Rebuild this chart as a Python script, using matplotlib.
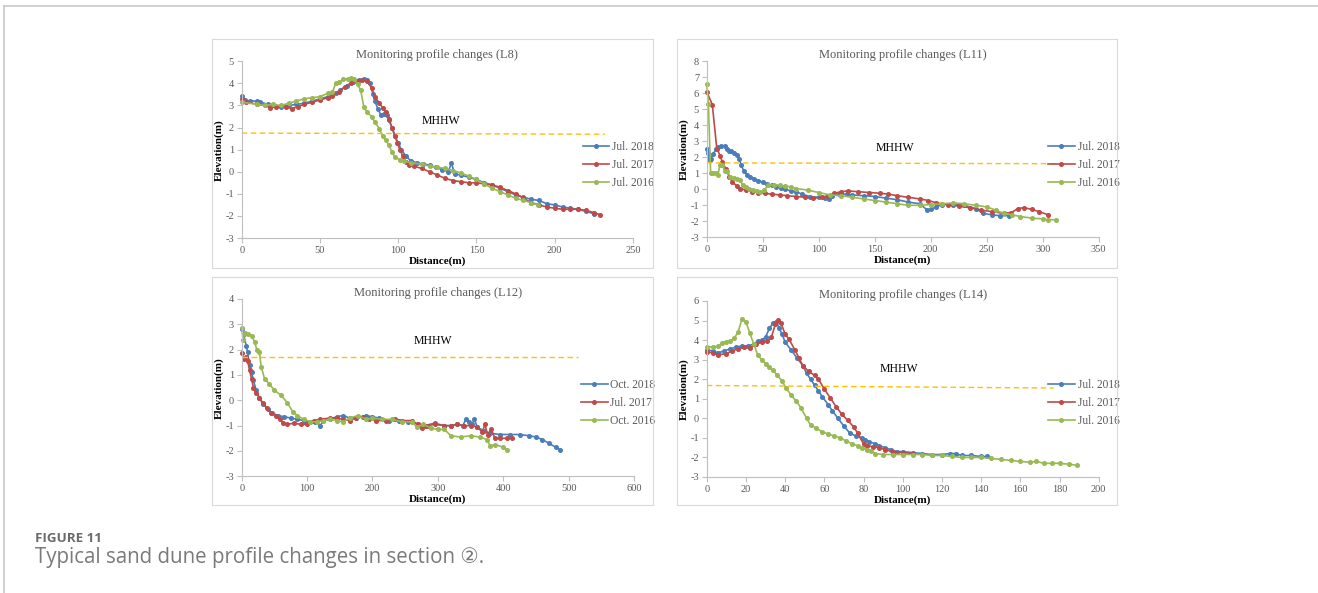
import matplotlib
matplotlib.use("Agg")
import matplotlib.pyplot as plt
from matplotlib.patches import Rectangle
from matplotlib.lines import Line2D

plt.rcParams["axes.unicode_minus"] = False

# ---------------- DATA ----------------
# L8
l8_b_x = [0, 2, 5, 10, 12, 17, 20, 25, 30, 35, 40, 45, 50, 55, 60, 63, 67, 71, 75, 78, 80, 82, 84, 85, 87, 89, 91, 93, 94, 96, 98, 100, 102, 105, 108, 112, 116, 120, 124, 128, 132, 134, 136, 140, 145, 150, 155, 160, 165, 170, 175, 180, 185, 190, 195, 200, 205, 210, 215, 220, 225]
l8_b_y = [3.45, 3.25, 3.2, 3.2, 3.15, 3.05, 3.0, 2.95, 3.0, 3.05, 3.1, 3.2, 3.3, 3.4, 3.55, 3.7, 3.9, 4.05, 4.15, 4.2, 4.15, 4.0, 3.5, 3.2, 2.85, 2.55, 2.6, 2.55, 2.35, 2.0, 1.6, 1.3, 1.0, 0.7, 0.5, 0.4, 0.35, 0.3, 0.2, 0.1, 0.0, 0.4, -0.1, -0.15, -0.25, -0.35, -0.5, -0.6, -0.75, -0.9, -1.05, -1.15, -1.25, -1.3, -1.45, -1.5, -1.6, -1.65, -1.7, -1.8, -1.9]
l8_r_x = [0, 3, 10, 15, 18, 22, 28, 32, 36, 40, 45, 50, 55, 58, 62, 66, 70, 74, 77, 80, 83, 85, 88, 90, 92, 94, 96, 98, 99.5, 101, 103, 105, 107, 110, 115, 120, 125, 130, 135, 140, 145, 150, 155, 160, 165, 170, 175, 180, 185, 190, 195, 200, 205, 210, 215, 220, 225, 229]
l8_r_y = [3.3, 3.15, 3.05, 3.0, 2.9, 2.95, 2.95, 2.85, 2.95, 3.05, 3.15, 3.25, 3.35, 3.45, 3.6, 3.85, 4.0, 4.1, 4.15, 4.1, 3.8, 3.4, 3.1, 2.9, 2.7, 2.4, 2.0, 1.6, 1.3, 1.0, 0.7, 0.45, 0.3, 0.25, 0.15, 0.0, -0.15, -0.3, -0.4, -0.45, -0.5, -0.5, -0.55, -0.6, -0.7, -0.85, -1.0, -1.2, -1.4, -1.5, -1.6, -1.65, -1.7, -1.7, -1.7, -1.75, -1.85, -1.95]
l8_g_x = [0, 10, 15, 20, 25, 30, 35, 40, 45, 50, 55, 58, 60, 62, 65, 68, 70, 72, 74, 76, 78, 80, 83, 85, 88, 90, 92, 94, 96, 98, 101, 104, 108, 115, 120, 125, 130, 135, 140, 145, 150, 155, 160, 165, 170, 175, 180, 185, 189]
l8_g_y = [3.15, 3.05, 3.0, 3.05, 3.0, 3.1, 3.2, 3.3, 3.35, 3.4, 3.55, 3.6, 4.0, 4.05, 4.2, 4.2, 4.25, 4.2, 3.95, 3.7, 2.95, 2.7, 2.5, 2.25, 1.95, 1.6, 1.45, 1.2, 0.9, 0.65, 0.55, 0.5, 0.4, 0.35, 0.25, 0.2, 0.15, 0.05, -0.05, -0.2, -0.35, -0.55, -0.75, -0.9, -1.05, -1.2, -1.3, -1.4, -1.5]
l8_mhhw_x = [0, 232]
l8_mhhw_y = [1.75, 1.7]

# L11
l11_b_x = [0, 1, 2, 3, 4, 6, 8, 10, 13, 16, 18, 20, 22, 24, 27, 29, 31, 33, 36, 39, 42, 46, 50, 54, 58, 62, 66, 70, 75, 80, 85, 92, 100, 106, 109, 112, 118, 125, 130, 140, 150, 160, 170, 180, 190, 197, 200, 205, 210, 220, 230, 240, 247, 255, 262, 270]
l11_b_y = [2.55, 2.3, 2.0, 1.85, 1.9, 2.2, 2.5, 2.65, 2.7, 2.7, 2.55, 2.4, 2.4, 2.3, 2.15, 1.9, 1.5, 1.15, 0.9, 0.75, 0.65, 0.55, 0.45, 0.35, 0.25, 0.15, 0.1, 0.0, -0.1, -0.15, -0.3, -0.45, -0.5, -0.55, -0.6, -0.4, -0.3, -0.3, -0.35, -0.4, -0.45, -0.55, -0.65, -0.8, -0.9, -1.3, -1.25, -1.1, -0.95, -0.95, -1.0, -1.2, -1.5, -1.6, -1.65, -1.65]
l11_r_x = [0, 5, 9, 12, 14, 17, 20, 23, 27, 30, 35, 40, 46, 52, 58, 65, 72, 80, 88, 95, 103, 108, 114, 120, 126, 135, 145, 155, 162, 170, 180, 190, 198, 205, 215, 225, 235, 245, 255, 265, 272, 278, 283, 290, 297, 305]
l11_r_y = [6.1, 5.3, 2.55, 2.1, 1.7, 1.3, 0.8, 0.45, 0.2, 0.05, -0.05, -0.15, -0.2, -0.25, -0.3, -0.35, -0.4, -0.45, -0.5, -0.55, -0.5, -0.4, -0.25, -0.15, -0.1, -0.15, -0.2, -0.25, -0.3, -0.4, -0.5, -0.6, -0.7, -0.85, -0.95, -1.05, -1.15, -1.3, -1.4, -1.5, -1.45, -1.2, -1.15, -1.25, -1.4, -1.6]
l11_g_x = [0, 1.5, 3.5, 6, 8, 10, 12, 14, 16, 18, 21, 24, 27, 30, 32, 35, 38, 41, 45, 48, 51, 55, 60, 65, 70, 75, 80, 90, 100, 110, 120, 130, 140, 150, 160, 170, 180, 190, 200, 210, 220, 230, 240, 250, 258, 265, 273, 280, 290, 300, 305, 312]
l11_g_y = [6.6, 5.35, 1.05, 1.05, 1.05, 0.9, 1.55, 1.55, 1.15, 1.15, 0.8, 0.7, 0.65, 0.6, 0.25, 0.15, 0.05, -0.05, -0.1, -0.15, -0.05, 0.25, 0.3, 0.25, 0.2, 0.15, 0.05, -0.05, -0.2, -0.35, -0.4, -0.5, -0.6, -0.7, -0.8, -0.9, -1.0, -1.0, -0.95, -0.9, -0.85, -0.9, -1.0, -1.1, -1.3, -1.5, -1.6, -1.7, -1.8, -1.85, -1.9, -1.9]
l11_mhhw_x = [0, 312]
l11_mhhw_y = [1.65, 1.6]

# L12
l12_b_x = [0, 3, 7, 9, 12, 15, 18, 22, 27, 33, 40, 47, 55, 65, 75, 85, 95, 105, 112, 120, 125, 135, 145, 155, 165, 175, 190, 200, 210, 225, 240, 255, 270, 280, 295, 310, 320, 330, 338, 343, 348, 352, 356, 360, 370, 380, 395, 410, 425, 440, 450, 460, 470, 480, 487]
l12_b_y = [2.8, 2.6, 2.15, 1.9, 1.4, 1.1, 0.8, 0.4, 0.1, -0.15, -0.35, -0.5, -0.6, -0.65, -0.7, -0.75, -0.8, -0.85, -0.85, -1.0, -0.8, -0.75, -0.65, -0.6, -0.7, -0.7, -0.6, -0.65, -0.7, -0.8, -0.8, -0.85, -0.95, -1.0, -0.9, -1.0, -1.0, -0.95, -1.0, -0.75, -0.85, -0.95, -0.75, -1.05, -1.2, -1.3, -1.35, -1.35, -1.35, -1.4, -1.45, -1.55, -1.7, -1.85, -1.95]
l12_r_x = [0, 3, 6, 9, 12, 15, 18, 22, 27, 32, 38, 45, 52, 58, 63, 70, 80, 90, 100, 110, 120, 135, 145, 155, 165, 175, 185, 195, 205, 220, 235, 245, 260, 270, 275, 283, 295, 310, 320, 330, 340, 350, 360, 368, 372, 376, 382, 387, 395, 405, 413]
l12_r_y = [1.85, 1.65, 1.7, 1.55, 1.2, 0.85, 0.5, 0.3, 0.1, -0.1, -0.3, -0.5, -0.6, -0.75, -0.9, -0.95, -0.9, -0.95, -0.95, -0.8, -0.75, -0.7, -0.7, -0.75, -0.8, -0.7, -0.65, -0.75, -0.8, -0.8, -0.75, -0.8, -0.8, -0.95, -1.1, -1.0, -0.95, -1.0, -1.0, -0.95, -1.0, -1.0, -1.05, -1.25, -0.95, -1.35, -1.15, -1.5, -1.5, -1.5, -1.5]
l12_g_x = [0, 2, 5, 10, 15, 20, 23, 27, 30, 35, 42, 50, 60, 70, 78, 85, 95, 105, 115, 125, 135, 145, 155, 165, 178, 190, 200, 215, 230, 245, 260, 268, 278, 290, 300, 310, 320, 335, 350, 365, 375, 380, 388, 400, 405]
l12_g_y = [2.85, 2.4, 2.65, 2.6, 2.55, 2.3, 2.0, 1.9, 1.3, 0.85, 0.65, 0.4, 0.2, -0.1, -0.45, -0.6, -0.75, -0.85, -0.85, -0.8, -0.75, -0.8, -0.85, -0.7, -0.6, -0.75, -0.7, -0.75, -0.75, -0.85, -0.85, -1.05, -0.95, -1.1, -1.15, -1.15, -1.4, -1.45, -1.4, -1.45, -1.55, -1.8, -1.75, -1.85, -1.95]
l12_mhhw_x = [0, 515]
l12_mhhw_y = [1.7, 1.7]

# L14
l14_b_x = [0, 3, 6, 9, 12, 15, 18, 21, 24, 26, 28, 30, 32, 34, 35.5, 37, 38.5, 40, 43, 46, 49, 51, 53, 55, 57, 59, 62, 64, 67, 70, 73, 76, 79, 81, 83, 86, 88, 91, 94, 97, 100, 105, 110, 115, 120, 124, 127, 130, 135, 140, 143]
l14_b_y = [3.5, 3.45, 3.35, 3.45, 3.55, 3.65, 3.7, 3.7, 3.8, 3.95, 4.0, 4.15, 4.6, 4.9, 4.95, 4.6, 4.3, 3.9, 3.5, 3.1, 2.7, 2.3, 2.0, 1.7, 1.4, 1.1, 0.7, 0.4, 0.0, -0.4, -0.75, -0.9, -1.0, -1.1, -1.2, -1.3, -1.4, -1.5, -1.6, -1.7, -1.7, -1.75, -1.8, -1.85, -1.85, -1.8, -1.8, -1.9, -1.9, -1.95, -1.95]
l14_r_x = [0, 3, 6, 10, 13, 16, 19, 22, 25, 28, 31, 33, 35, 36.5, 38, 40, 42, 45, 47, 49, 52, 55, 57, 60, 63, 66, 69, 72, 75, 77, 80, 82, 85, 88, 91, 95, 100, 105]
l14_r_y = [3.4, 3.35, 3.25, 3.3, 3.45, 3.55, 3.65, 3.6, 3.8, 3.9, 3.95, 4.15, 4.8, 5.05, 4.85, 4.3, 4.05, 3.5, 3.1, 2.7, 2.4, 2.2, 2.0, 1.5, 1.05, 0.6, 0.2, -0.1, -0.45, -0.75, -1.3, -1.4, -1.45, -1.5, -1.6, -1.7, -1.75, -1.8]
l14_g_x = [0, 3, 6, 8, 10, 12, 14, 16, 18, 20, 22, 24, 26, 28, 30, 32, 34, 36, 38.5, 40.5, 43, 45.5, 48, 51, 53, 56, 59, 62, 65, 68, 71, 74, 77, 79, 82, 84, 86, 90, 95, 100, 105, 110, 115, 120, 125, 130, 135, 140, 145, 150, 155, 160, 165, 168, 172, 176, 180, 185, 189]
l14_g_y = [3.65, 3.65, 3.7, 3.85, 3.9, 3.95, 4.1, 4.4, 5.1, 4.95, 4.35, 3.8, 3.25, 3.0, 2.8, 2.6, 2.45, 2.2, 1.9, 1.55, 1.2, 0.9, 0.55, 0.0, -0.35, -0.5, -0.7, -0.8, -0.9, -1.0, -1.15, -1.3, -1.4, -1.5, -1.6, -1.65, -1.8, -1.85, -1.85, -1.85, -1.85, -1.85, -1.9, -1.9, -1.95, -2.0, -2.0, -2.0, -2.05, -2.1, -2.15, -2.2, -2.25, -2.2, -2.3, -2.3, -2.3, -2.35, -2.4]
l14_mhhw_x = [0, 177]
l14_mhhw_y = [1.68, 1.55]

titles = ["Monitoring profile changes (L8)", "Monitoring profile changes (L11)",
          "Monitoring profile changes (L12)", "Monitoring profile changes (L14)"]
labels_top = ["Jul. 2018", "Jul. 2017", "Jul. 2016"]
labels_l12 = ["Oct. 2018", "Jul. 2017", "Oct. 2016"]

# ---------------- STYLE ----------------
W, H = 1318, 593
fig = plt.figure(figsize=(W / 100, H / 100), dpi=100)
SERIF = ["Liberation Serif", "DejaVu Serif"]
BLUE, RED, GREEN = "#4A7EBB", "#BE4B48", "#98B954"
MHHW_C = "#FFC000"
GRAYTXT = "#595959"
SPINE = "#BFBFBF"

def fx(px):
    return px / W

def fy(py):
    return 1 - py / H

# page frame
fig.add_artist(Line2D([fx(4), fx(1318)], [fy(6), fy(6)], color="#C8C8C8", lw=1.2))
fig.add_artist(Line2D([fx(4), fx(4)], [fy(6), 0], color="#C8C8C8", lw=1.2))

# panel boxes (px): left, top, right, bottom
boxes = [(212, 39, 653, 268), (677, 39, 1117, 268), (212, 277, 653, 505), (677, 277, 1117, 505)]
for l, t, r, b in boxes:
    fig.add_artist(Rectangle((fx(l), fy(b)), fx(r - l), (b - t) / H, fill=False,
                             edgecolor="#D9D9D9", lw=0.8))

# axes positions (px): x0, x1, ytop, ybottom
axpos = [(241.7, 633.0, 61.3, 238.0), (706.7, 1098.7, 61.3, 237.3),
         (241.7, 634.0, 299.0, 476.3), (706.7, 1098.7, 301.0, 477.0)]

panels = [
    dict(series=[(l8_b_x, l8_b_y), (l8_r_x, l8_r_y), (l8_g_x, l8_g_y)], mh=(l8_mhhw_x, l8_mhhw_y),
         xlim=(0, 250), xt=range(0, 251, 50), ylim=(-3, 5), mtxt=(127, 2.3), labels=labels_top,
         leg=(0.872, 0.413)),
    dict(series=[(l11_b_x, l11_b_y), (l11_r_x, l11_r_y), (l11_g_x, l11_g_y)], mh=(l11_mhhw_x, l11_mhhw_y),
         xlim=(0, 350), xt=range(0, 351, 50), ylim=(-3, 8), mtxt=(168, 2.6), labels=labels_top,
         leg=(0.871, 0.411)),
    dict(series=[(l12_b_x, l12_b_y), (l12_r_x, l12_r_y), (l12_g_x, l12_g_y)], mh=(l12_mhhw_x, l12_mhhw_y),
         xlim=(0, 600), xt=range(0, 601, 100), ylim=(-3, 4), mtxt=(293, 2.35), labels=labels_l12,
         leg=(0.865, 0.413)),
    dict(series=[(l14_b_x, l14_b_y), (l14_r_x, l14_r_y), (l14_g_x, l14_g_y)], mh=(l14_mhhw_x, l14_mhhw_y),
         xlim=(0, 200), xt=range(0, 201, 20), ylim=(-3, 6), mtxt=(98, 2.5), labels=labels_top,
         leg=(0.871, 0.420)),
]

for i, p in enumerate(panels):
    x0, x1, yt, yb = axpos[i]
    ax = fig.add_axes([fx(x0), fy(yb), (x1 - x0) / W, (yb - yt) / H])
    ax.patch.set_alpha(0)
    handles = []
    for (xs, ys), c, lab in zip(p["series"], [BLUE, RED, GREEN], p["labels"]):
        h, = ax.plot(xs, ys, color=c, lw=1.2, marker="o", ms=2.6, mec=c, mfc=c, label=lab, clip_on=False)
        handles.append(h)
    ax.plot(p["mh"][0], p["mh"][1], color=MHHW_C, lw=1.0, ls=(0, (4, 2.5)))
    ax.text(p["mtxt"][0], p["mtxt"][1], "MHHW", ha="center", va="center", fontsize=8.5,
            family=SERIF, color="black")
    ax.set_xlim(*p["xlim"])
    ax.set_ylim(*p["ylim"])
    ax.set_xticks(list(p["xt"]))
    ax.set_yticks(range(p["ylim"][0], p["ylim"][1] + 1))
    for s in ["top", "right"]:
        ax.spines[s].set_visible(False)
    for s in ["left", "bottom"]:
        ax.spines[s].set_color(SPINE)
        ax.spines[s].set_linewidth(0.8)
    ax.tick_params(axis="both", direction="out", length=3.5, width=0.8, color=SPINE,
                   labelsize=7.5, labelcolor=GRAYTXT, pad=2)
    for lab in ax.get_xticklabels() + ax.get_yticklabels():
        lab.set_family(SERIF)
    ax.set_title(titles[i], fontsize=9, family=SERIF, color=GRAYTXT, pad=1.5)
    ax.set_xlabel("Distance(m)", fontsize=8, family=SERIF, fontweight="bold", labelpad=1)
    ax.set_ylabel("Elevation(m)", fontsize=8, family=SERIF, fontweight="bold", labelpad=1)
    leg = ax.legend(handles=handles, loc="center left", bbox_to_anchor=p["leg"], frameon=False,
                    numpoints=1, handlelength=2.3, handletextpad=0.25, labelspacing=0.55,
                    borderpad=0, borderaxespad=0, prop={"family": SERIF, "size": 8.3})
    for t in leg.get_texts():
        t.set_color(GRAYTXT)

# caption
fig.text(fx(35), fy(542), "FIGURE 11", fontsize=9.6, fontweight="bold", color="#6B6B6B",
         family=["Open Sans", "DejaVu Sans"], va="baseline")
fig.text(fx(35), fy(563), "Typical sand dune profile changes in section \u2461.", fontsize=14.8,
         color="#7A7A7A", family=["Open Sans", "DejaVu Sans"], va="baseline")

fig.savefig("out.png", dpi=100)
